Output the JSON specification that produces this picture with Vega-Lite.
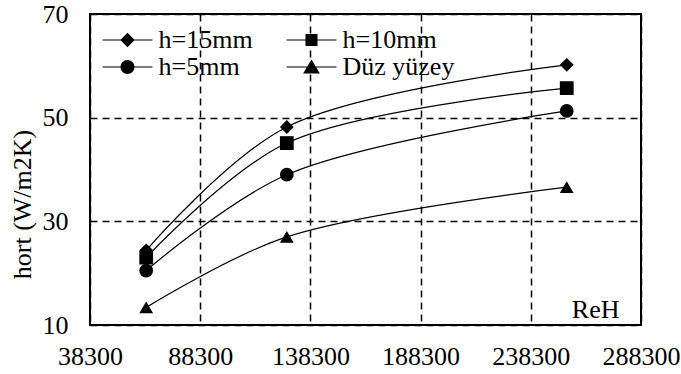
{
  "$schema": "https://vega.github.io/schema/vega-lite/v6.json",
  "width": 551,
  "height": 311,
  "autosize": {"type": "none"},
  "padding": {"left": 90, "top": 14, "right": 40, "bottom": 49},
  "background": "white",
  "config": {
    "font": "Liberation Serif",
    "view": {"stroke": "black", "strokeWidth": 2},
    "axis": {
      "domain": false,
      "ticks": false,
      "tickSize": 0,
      "grid": true,
      "gridColor": "black",
      "gridWidth": 1.5,
      "gridDash": [7, 5],
      "gridOpacity": 1,
      "labelFont": "Liberation Serif",
      "labelFontSize": 26,
      "labelColor": "black",
      "labelFlush": false,
      "labelOverlap": false,
      "labelBound": false,
      "titleFont": "Liberation Serif",
      "titleFontSize": 26,
      "titleFontWeight": "normal",
      "titleColor": "black"
    }
  },
  "data": {
    "values": [
      {"series": "h=15mm", "label": "h=15mm", "ReH": 63800, "hort": 24.4},
      {"series": "h=15mm", "label": "h=15mm", "ReH": 127600, "hort": 48.2},
      {"series": "h=15mm", "label": "h=15mm", "ReH": 254600, "hort": 60.2},
      {"series": "h=10mm", "label": "h=10mm", "ReH": 63800, "hort": 23.0},
      {"series": "h=10mm", "label": "h=10mm", "ReH": 127600, "hort": 45.1},
      {"series": "h=10mm", "label": "h=10mm", "ReH": 254600, "hort": 55.7},
      {"series": "h=5mm", "label": "h=5mm", "ReH": 63800, "hort": 20.5},
      {"series": "h=5mm", "label": "h=5mm", "ReH": 127600, "hort": 39.0},
      {"series": "h=5mm", "label": "h=5mm", "ReH": 254600, "hort": 51.3},
      {"series": "Düz yüzey", "label": "Düz yüzey", "ReH": 63800, "hort": 13.4},
      {"series": "Düz yüzey", "label": "Düz yüzey", "ReH": 127600, "hort": 27.0},
      {"series": "Düz yüzey", "label": "Düz yüzey", "ReH": 254600, "hort": 36.6}
    ]
  },
  "encoding": {
    "x": {
      "field": "ReH",
      "type": "quantitative",
      "scale": {"domain": [38300, 288300], "nice": false, "zero": false},
      "axis": {
        "values": [38300, 88300, 138300, 188300, 238300, 288300],
        "format": "d",
        "labelPadding": 18,
        "title": "ReH",
        "titleX": 529,
        "titleY": -8,
        "titleAlign": "right",
        "titleAnchor": "end",
        "titleBaseline": "alphabetic"
      }
    },
    "y": {
      "field": "hort",
      "type": "quantitative",
      "scale": {"domain": [10, 70], "nice": false, "zero": false},
      "axis": {
        "values": [10, 30, 50, 70],
        "labelPadding": 22,
        "title": "hort (W/m2K)",
        "titleX": -68,
        "titleY": 190,
        "titleAngle": -90,
        "titleAlign": "center",
        "titleAnchor": "middle",
        "titleBaseline": "middle"
      }
    }
  },
  "layer": [
    {
      "mark": {"type": "line", "interpolate": "catmull-rom", "color": "black", "strokeWidth": 1.2},
      "encoding": {"detail": {"field": "series"}}
    },
    {
      "mark": {"type": "point", "filled": true, "color": "black", "size": 190, "opacity": 1},
      "encoding": {
        "shape": {
          "field": "series",
          "scale": {
            "domain": ["h=15mm", "h=10mm", "h=5mm", "Düz yüzey"],
            "range": ["diamond", "square", "circle", "triangle-up"]
          },
          "legend": null
        }
      }
    },
    {
      "mark": {"type": "point", "filled": true, "color": "black", "opacity": 0},
      "encoding": {
        "shape": {
          "field": "label",
          "scale": {
            "domain": ["h=15mm", "h=10mm", "h=5mm", "Düz yüzey"],
            "range": [
              "M-2.08,-0.05L-0.3,-0.05L-0.3,0.05L-2.08,0.05ZM0.3,-0.05L2.08,-0.05L2.08,0.05L0.3,0.05ZM0,-0.6L0.6,0L0,0.6L-0.6,0Z",
              "M-2.08,-0.05L-0.3,-0.05L-0.3,0.05L-2.08,0.05ZM0.3,-0.05L2.08,-0.05L2.08,0.05L0.3,0.05ZM-0.5,-0.5L0.5,-0.5L0.5,0.5L-0.5,0.5Z",
              "M-2.08,-0.05L-0.3,-0.05L-0.3,0.05L-2.08,0.05ZM0.3,-0.05L2.08,-0.05L2.08,0.05L0.3,0.05ZM-0.58,0A0.58,0.58,0,1,1,0.58,0A0.58,0.58,0,1,1,-0.58,0Z",
              "M-2.08,-0.05L-0.3,-0.05L-0.3,0.05L-2.08,0.05ZM0.3,-0.05L2.08,-0.05L2.08,0.05L0.3,0.05ZM0,-0.62L0.7,0.55L-0.7,0.55Z"
            ]
          },
          "legend": {
            "title": null,
            "orient": "none",
            "direction": "horizontal",
            "legendX": 24.5,
            "legendY": 13,
            "columns": 2,
            "columnPadding": 33,
            "rowPadding": 1,
            "padding": 0,
            "symbolSize": 576,
            "symbolFillColor": "black",
            "symbolStrokeColor": "black",
            "symbolStrokeWidth": 0,
            "symbolOpacity": 1,
            "labelFont": "Liberation Serif",
            "labelFontSize": 26,
            "labelColor": "black",
            "labelOffset": 18,
            "labelLimit": 300
          }
        }
      }
    }
  ],
  "resolve": {"scale": {"shape": "independent"}}
}
